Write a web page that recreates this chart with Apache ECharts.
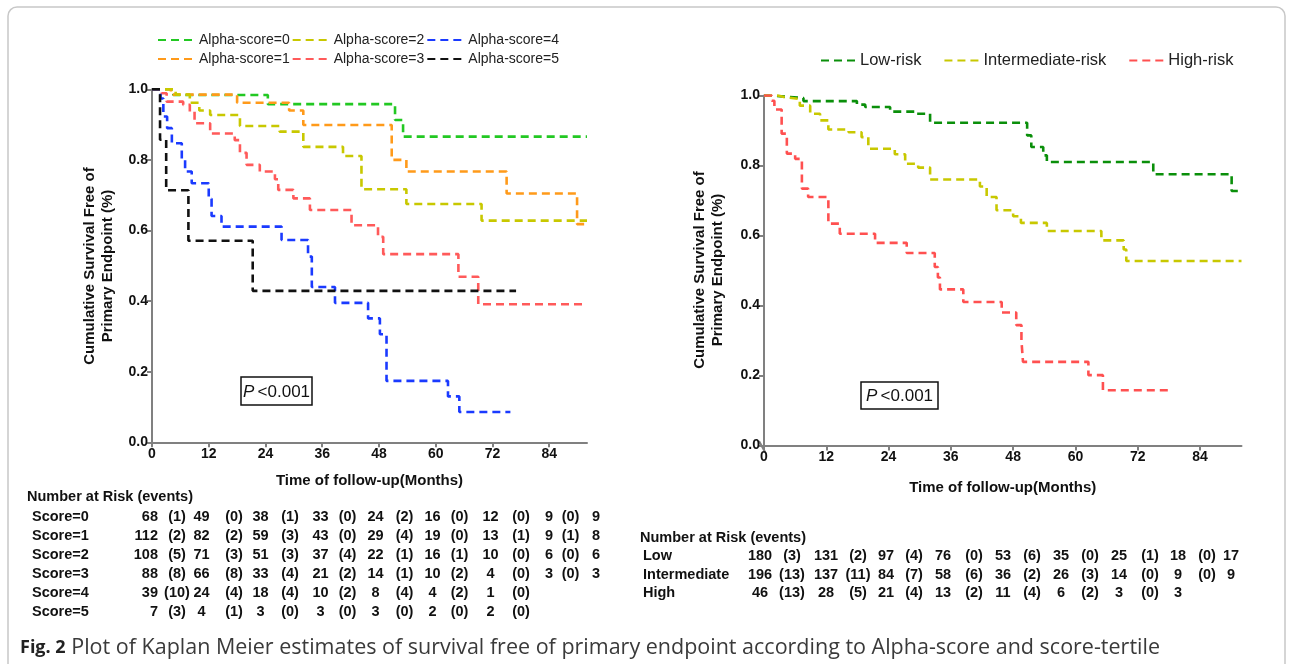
<!DOCTYPE html>
<html><head><meta charset="utf-8">
<script src="https://cdn.jsdelivr.net/npm/echarts@6/dist/echarts.min.js"></script>
<style>html,body{margin:0;padding:0;background:#fff}#c{width:1292px;height:664px}</style>
</head><body><div id="c"></div>
<script>
// ---------- data ----------
const xTicks = [0, 12, 24, 36, 48, 60, 72, 84];
const yTicks = [0, 0.2, 0.4, 0.6, 0.8, 1.0];
const xTitle = 'Time of follow-up(Months)';
const yTitle = ['Cumulative Survival Free of', 'Primary Endpoint (%)'];
const pText = '<0.001';

const leftNames = ['Alpha-score=0', 'Alpha-score=1', 'Alpha-score=2', 'Alpha-score=3', 'Alpha-score=4', 'Alpha-score=5'];
const score0 = [[0,1],[4.5,0.984],[24.5,0.958],[51.4,0.913],[53.1,0.866],[92,0.866]];
const score1 = [[0,1],[4,0.985],[18,0.962],[29,0.94],[32,0.899],[50.7,0.80],[53.8,0.767],[75,0.705],[89.9,0.618],[92,0.618]];
const score2 = [[0,1],[5,0.985],[8,0.962],[10,0.94],[12.3,0.927],[18.6,0.896],[27,0.88],[32,0.837],[40.4,0.811],[44.3,0.717],[53.8,0.675],[69.7,0.628],[92,0.628]];
const score3 = [[0,1],[2,0.989],[3.1,0.965],[6.6,0.956],[8,0.937],[9,0.904],[12.3,0.875],[17.5,0.856],[18.6,0.82],[20,0.786],[22.8,0.767],[26,0.745],[26.7,0.715],[29.9,0.691],[33.4,0.658],[42.2,0.615],[47.8,0.582],[48.9,0.533],[64.8,0.469],[69,0.391],[92,0.391]];
const score4 = [[0,1],[1.8,0.974],[2.4,0.923],[3.2,0.89],[4.2,0.847],[6.3,0.8],[7,0.767],[8.4,0.734],[12,0.69],[12.6,0.641],[14.7,0.611],[27.4,0.573],[33,0.526],[33.8,0.44],[38.7,0.395],[45.7,0.351],[48.2,0.306],[49.6,0.174],[62.6,0.13],[65,0.086],[75.8,0.086]];
const score5 = [[0,1],[1.7,0.857],[3,0.714],[7.7,0.571],[21.3,0.429],[77,0.429]];

const rightNames = ['Low-risk', 'Intermediate-risk', 'High-risk'];
const lowRisk = [[0,1],[1,0.996],[4.7,0.993],[7.6,0.984],[17.9,0.974],[19.5,0.967],[24.3,0.954],[29.1,0.948],[32,0.922],[50.7,0.886],[51.5,0.853],[53.8,0.829],[54.5,0.81],[75,0.775],[90.1,0.727],[92,0.727]];
const interRisk = [[0,1],[2.7,0.995],[4,0.99],[6.9,0.971],[8.9,0.948],[10.8,0.929],[12.4,0.903],[16.3,0.895],[18.8,0.881],[20.1,0.848],[25.2,0.832],[27.2,0.805],[29.7,0.794],[32,0.76],[41.6,0.74],[42.9,0.71],[44.8,0.672],[48,0.655],[49.5,0.636],[54.5,0.613],[65,0.586],[69.3,0.56],[69.8,0.527],[92,0.527]];
const highRisk = [[0,1],[1.5,0.985],[2,0.96],[3.4,0.891],[4.4,0.834],[6,0.819],[7.3,0.734],[8.5,0.71],[12.4,0.634],[14.6,0.605],[21.4,0.579],[27.5,0.55],[32.9,0.51],[33.5,0.48],[33.9,0.446],[38.4,0.41],[45.8,0.38],[48.6,0.344],[49.6,0.3],[49.9,0.239],[62.5,0.201],[65.3,0.158],[78.6,0.158]];

const riskHeader = 'Number at Risk (events)';
const leftRiskLabels = ['Score=0', 'Score=1', 'Score=2', 'Score=3', 'Score=4', 'Score=5'];
const leftRiskN = [
  [68, 49, 38, 33, 24, 16, 12, 9, 9],
  [112, 82, 59, 43, 29, 19, 13, 9, 8],
  [108, 71, 51, 37, 22, 16, 10, 6, 6],
  [88, 66, 33, 21, 14, 10, 4, 3, 3],
  [39, 24, 18, 10, 8, 4, 1],
  [7, 4, 3, 3, 3, 2, 2]
];
const leftRiskEv = [
  [1, 0, 1, 0, 2, 0, 0, 0],
  [2, 2, 3, 0, 4, 0, 1, 1],
  [5, 3, 3, 4, 1, 1, 0, 0],
  [8, 8, 4, 2, 1, 2, 0, 0],
  [10, 4, 4, 2, 4, 2, 0],
  [3, 1, 0, 0, 0, 0, 0]
];
const rightRiskLabels = ['Low', 'Intermediate', 'High'];
const rightRiskN = [
  [180, 131, 97, 76, 53, 35, 25, 18, 17],
  [196, 137, 84, 58, 36, 26, 14, 9, 9],
  [46, 28, 21, 13, 11, 6, 3, 3]
];
const rightRiskEv = [
  [3, 2, 4, 0, 6, 0, 1, 0],
  [13, 11, 7, 6, 2, 3, 0, 0],
  [13, 5, 4, 2, 4, 2, 0]
];
const captionBold = 'Fig. 2';
const captionText = ' Plot of Kaplan Meier estimates of survival free of primary endpoint according to Alpha-score and score-tertile';

// ---------- styles / layout ----------
const leftColors = ['#22c822', '#ff9a1a', '#c8c800', '#ff5a5a', '#1a3aff', '#111111'];
const rightColors = ['#0a8f0a', '#c8c800', '#ff5050'];
const FONT = 'Liberation Sans, Arial, sans-serif';
const AX = '#808080';

const chart = echarts.init(document.getElementById('c'), null, {renderer: 'canvas'});

function xAxisCfg(gi, gap) {
  return {
    type: 'value', gridIndex: gi, min: 0, max: 92, interval: 12,
    axisLine: {show: true, onZero: false, lineStyle: {color: AX, width: 2}},
    axisTick: {show: true, length: 5, customValues: xTicks, lineStyle: {color: AX, width: 2}},
    axisLabel: {customValues: xTicks, color: '#111', fontWeight: 'bold', fontSize: 14, fontFamily: FONT, margin: 5},
    splitLine: {show: false},
    name: xTitle, nameLocation: 'middle', nameGap: gap,
    nameTextStyle: {color: '#111', fontWeight: 'bold', fontSize: 15, fontFamily: FONT}
  };
}
function yAxisCfg(gi) {
  return {
    type: 'value', gridIndex: gi, min: 0, max: 1, interval: 0.2,
    axisLine: {show: true, lineStyle: {color: AX, width: 2}},
    axisTick: {show: true, length: 5, lineStyle: {color: AX, width: 2}},
    axisLabel: {color: '#111', fontWeight: 'bold', fontSize: 14, fontFamily: FONT, margin: 4,
      formatter: v => v.toFixed(1)},
    splitLine: {show: false}
  };
}
function km(name, data, color, gi) {
  return {
    name, type: 'line', step: 'end', data, xAxisIndex: gi, yAxisIndex: gi,
    symbol: 'none', showSymbol: false, silent: true, animation: false,
    lineStyle: {color, width: 2.6, type: [8, 5]}, itemStyle: {color}
  };
}

const leftData = [score0, score1, score2, score3, score4, score5];
const rightData = [lowRisk, interRisk, highRisk];
const series = [];
leftData.forEach((d, i) => series.push(km(leftNames[i], d, leftColors[i], 0)));
rightData.forEach((d, i) => series.push(km(rightNames[i], d, rightColors[i], 1)));

// ---------- graphic: tables, titles, caption ----------
const g = [];
const tStyle = (extra) => Object.assign({fill: '#111', font: 'bold 14.5px ' + FONT, textVerticalAlign: 'middle'}, extra);
function table(hdr, labels, N, Ev, L) {
  g.push({type: 'text', x: L.hx, y: L.hy, style: tStyle({text: hdr, textAlign: 'left'})});
  labels.forEach((lab, r) => {
    const y = L.y0 + r * L.dy;
    g.push({type: 'text', x: L.lx, y, style: tStyle({text: lab, textAlign: 'left'})});
    N[r].forEach((v, c) => {
      const right = c === 0 && L.firstRight;
      g.push({type: 'text', x: L.vx[c], y, style: tStyle({text: String(v), textAlign: right ? 'right' : 'center'})});
    });
    Ev[r].forEach((v, c) => {
      g.push({type: 'text', x: L.ex[c], y, style: tStyle({text: '(' + v + ')', textAlign: 'center'})});
    });
  });
}
table(riskHeader, leftRiskLabels, leftRiskN, leftRiskEv, {
  hx: 27, hy: 497, lx: 32, y0: 516.5, dy: 19, firstRight: true,
  vx: [158, 201.5, 260.5, 320.5, 375.5, 432.5, 490.5, 549, 596],
  ex: [177, 234, 290, 347.5, 404.5, 459.5, 521, 570.5]
});
table(riskHeader, rightRiskLabels, rightRiskN, rightRiskEv, {
  hx: 640, hy: 538, lx: 643, y0: 556, dy: 18.5, firstRight: false,
  vx: [760, 826, 886, 943, 1003, 1061, 1119, 1178, 1231],
  ex: [792, 858, 914, 974, 1032, 1090, 1150, 1207]
});

// y-axis titles
[[99, 266], [709, 270]].forEach(([x, y]) => {
  g.push({type: 'text', x, y, rotation: Math.PI / 2,
    style: {text: yTitle.join('\n'), fill: '#111', font: 'bold 15px ' + FONT, textAlign: 'center', textVerticalAlign: 'middle', lineHeight: 18}});
});

// axis break mark at right origin
g.push({type: 'line', shape: {x1: 759, y1: 441, x2: 765, y2: 452}, style: {stroke: AX, lineWidth: 2}});

// P boxes
[[241, 377, 71, 28], [861, 382, 77, 27]].forEach(([x, y, w, h]) => {
  g.push({type: 'rect', shape: {x, y, width: w, height: h}, style: {fill: '#fff', stroke: '#111', lineWidth: 1.5}});
  g.push({type: 'text', x: x + w / 2, y: y + h / 2 + 1, style: {
    text: '{i|P} {n|' + pText + '}', textAlign: 'center', textVerticalAlign: 'middle',
    rich: {i: {fontStyle: 'italic', fontSize: 17, fontFamily: FONT, fill: '#111'}, n: {fontSize: 17, fontFamily: FONT, fill: '#111'}}
  }});
});

// caption
g.push({type: 'text', x: 20, y: 648, style: {
  text: '{b|' + captionBold + '}{n|' + captionText + '}', textVerticalAlign: 'middle',
  rich: {b: {fontWeight: 'bold', fontSize: 18, fontFamily: 'Open Sans, sans-serif', fill: '#222'},
         n: {fontSize: 21.5, fontFamily: 'Open Sans, sans-serif', fill: '#3a3a3a'}}
}});

// frame
g.push({type: 'rect', z: -10, shape: {x: 8, y: 7, width: 1277, height: 690, r: 9}, style: {fill: 'none', stroke: '#c8c8c8', lineWidth: 1.5}});

const legendText = {color: '#222', fontSize: 14, fontFamily: FONT};
const legendBase = {itemWidth: 36, itemHeight: 14, itemStyle: {opacity: 0}, selectedMode: false};
chart.setOption({
  animation: false,
  backgroundColor: '#fff',
  grid: [
    {left: 152, top: 89.3, width: 435, height: 353, outerBoundsMode: 'none'},
    {left: 764, top: 95.5, width: 477.5, height: 350, outerBoundsMode: 'none'}
  ],
  xAxis: [xAxisCfg(0, 31), xAxisCfg(1, 35)],
  yAxis: [yAxisCfg(0), yAxisCfg(1)],
  legend: [
    Object.assign({data: [leftNames[0], leftNames[2], leftNames[4]], left: 152, top: 28, itemGap: 2, textStyle: legendText}, legendBase),
    Object.assign({data: [leftNames[1], leftNames[3], leftNames[5]], left: 152, top: 47, itemGap: 2, textStyle: legendText}, legendBase),
    Object.assign({data: rightNames, left: 815, top: 47, itemGap: 22, textStyle: Object.assign({}, legendText, {fontSize: 16.5})}, legendBase, {itemWidth: 34})
  ],
  series,
  graphic: g
});
</script>
</body></html>
